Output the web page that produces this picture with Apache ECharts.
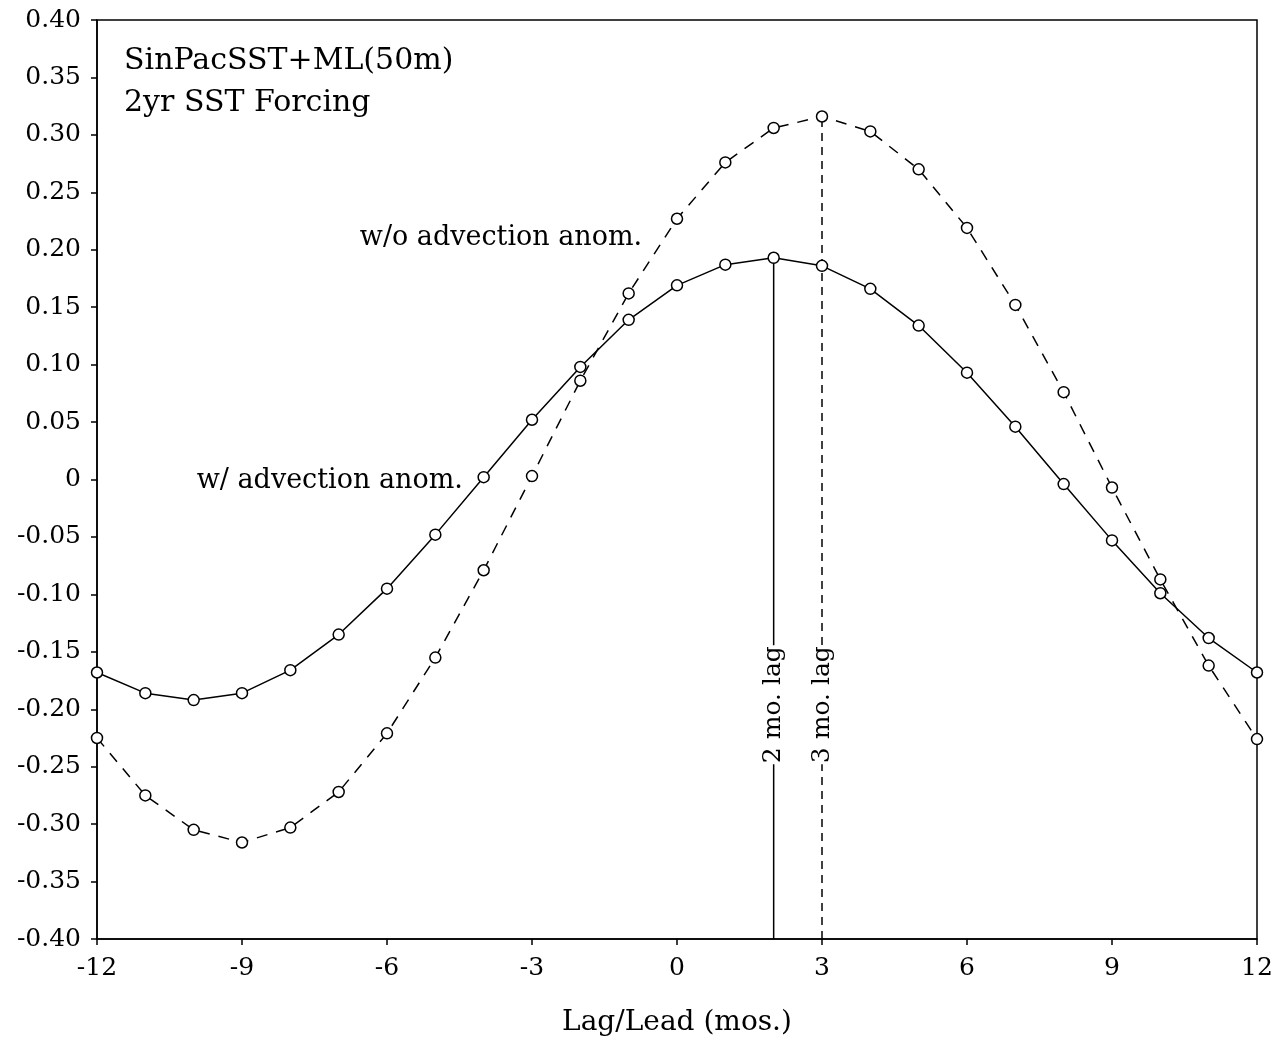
<!DOCTYPE html>
<html>
<head>
<meta charset="utf-8">
<script src="https://cdn.jsdelivr.net/npm/echarts@6/dist/echarts.min.js"></script>
<style>html,body{margin:0;padding:0;background:#fff}#c{width:1278px;height:1042px}</style>
</head>
<body>
<div id="c"></div>
<script>
const lags = [-12,-11,-10,-9,-8,-7,-6,-5,-4,-3,-2,-1,0,1,2,3,4,5,6,7,8,9,10,11,12];
const withAdv = [-0.168,-0.186,-0.192,-0.186,-0.166,-0.135,-0.095,-0.048,0.002,0.052,0.098,0.139,0.169,0.187,0.193,0.186,0.166,0.134,0.093,0.046,-0.004,-0.053,-0.099,-0.138,-0.168];
const withoutAdv = [-0.225,-0.275,-0.305,-0.316,-0.303,-0.272,-0.221,-0.155,-0.079,0.003,0.086,0.162,0.227,0.276,0.306,0.316,0.303,0.270,0.219,0.152,0.076,-0.007,-0.087,-0.162,-0.226];
const xTicks = [-12,-9,-6,-3,0,3,6,9,12];
const yMin = -0.4, yMax = 0.4;
const titleLines = ["SinPacSST+ML(50m)", "2yr SST Forcing"];
const seriesLabels = ["w/ advection anom.", "w/o advection anom."];
const lagMarks = [2, 3];
const lagMarkTops = [0.193, 0.316];
const lagMarkText = ["2 mo. lag", "3 mo. lag"];

const FONT = "DejaVu Serif";
const chart = echarts.init(document.getElementById('c'), null, {renderer: 'canvas'});
const pair = (xs, ys) => xs.map((x, i) => [x, ys[i]]);

const option = {
  backgroundColor: '#fff',
  animation: false,
  textStyle: {fontFamily: FONT, color: '#000'},
  title: {
    text: titleLines.join('\n'),
    left: 119, top: 35,
    textStyle: {fontFamily: FONT, fontSize: 30, fontWeight: 'normal', color: '#000', lineHeight: 42}
  },
  grid: {left: 97, right: 21, top: 20, bottom: 102, show: true, borderColor: '#000', borderWidth: 1.5, containLabel: false},
  xAxis: {
    type: 'value', min: -12, max: 12, interval: 3,
    name: 'Lag/Lead (mos.)', nameLocation: 'middle', nameGap: 70,
    nameTextStyle: {fontFamily: FONT, fontSize: 28, color: '#000'},
    axisLine: {show: true, onZero: false, lineStyle: {color: '#000', width: 1.5}},
    axisTick: {show: true, length: 6, lineStyle: {color: '#000', width: 1.5}},
    axisLabel: {fontFamily: FONT, fontSize: 25, color: '#000', margin: 17,
      formatter: v => xTicks.includes(v) ? String(v) : ''},
    splitLine: {show: false}
  },
  yAxis: {
    type: 'value', min: yMin, max: yMax, interval: 0.05,
    axisLine: {show: true, onZero: false, lineStyle: {color: '#000', width: 1.5}},
    axisTick: {show: true, length: 6, lineStyle: {color: '#000', width: 1.5}},
    axisLabel: {fontFamily: FONT, fontSize: 25, color: '#000', margin: 16,
      formatter: v => Math.abs(v) < 1e-9 ? '0' : v.toFixed(2)},
    splitLine: {show: false}
  },
  series: [
    {
      type: 'line', data: pair([lagMarks[0], lagMarks[0]], [yMin, lagMarkTops[0]]),
      symbol: 'none', lineStyle: {color: '#000', width: 1.5}, z: 1
    },
    {
      type: 'line', data: pair([lagMarks[1], lagMarks[1]], [yMin, lagMarkTops[1]]),
      symbol: 'none', lineStyle: {color: '#000', width: 1.5, type: [8, 6]}, z: 1
    },
    {
      type: 'line', name: seriesLabels[0], data: pair(lags, withAdv),
      symbol: 'circle', symbolSize: 11, showAllSymbol: true,
      itemStyle: {color: '#fff', borderColor: '#000', borderWidth: 1.5},
      lineStyle: {color: '#000', width: 1.5}, z: 3
    },
    {
      type: 'line', name: seriesLabels[1], data: pair(lags, withoutAdv),
      symbol: 'circle', symbolSize: 11, showAllSymbol: true,
      itemStyle: {color: '#fff', borderColor: '#000', borderWidth: 1.5},
      lineStyle: {color: '#000', width: 1.5, type: [11, 9]}, z: 3
    },
    {
      type: 'scatter', symbolSize: 0, z: 4, silent: true,
      itemStyle: {opacity: 1, color: '#fff'},
      data: [
        {value: [lagMarks[0], -0.196], label: {formatter: lagMarkText[0]}},
        {value: [lagMarks[1], -0.196], label: {formatter: lagMarkText[1]}}
      ],
      label: {show: true, position: 'inside', rotate: 90, fontFamily: FONT, fontSize: 25, color: '#000',
        textBorderWidth: 0, backgroundColor: '#fff', padding: [2, 1]}
    },
    {
      type: 'scatter', symbolSize: 0, z: 4, silent: true,
      itemStyle: {opacity: 1, color: '#fff'},
      data: [
        {value: [-4.43, -0.001], label: {formatter: seriesLabels[0]}},
        {value: [-0.72, 0.210], label: {formatter: seriesLabels[1]}}
      ],
      label: {show: true, position: 'left', distance: 0, fontFamily: FONT, fontSize: 27, color: '#000', textBorderWidth: 0}
    }
  ]
};
chart.setOption(option);
</script>
</body>
</html>
